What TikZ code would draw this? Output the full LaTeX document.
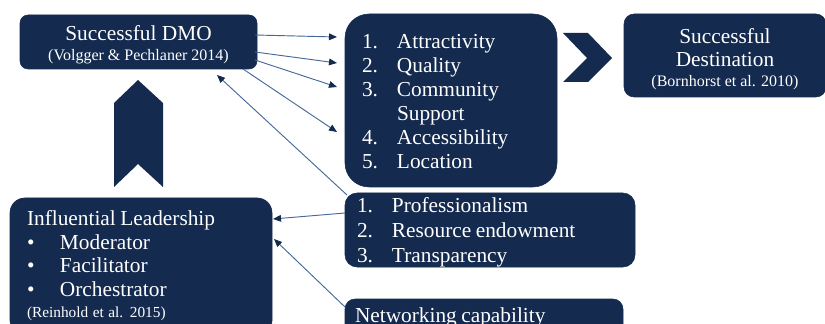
\documentclass[tikz,border=0pt]{standalone}
\usepackage{fontspec}
\setmainfont{Liberation Serif}
\usetikzlibrary{calc,arrows.meta}
\definecolor{dmonavy}{RGB}{20,42,78}
\definecolor{linkblue}{RGB}{70,105,150}

\begin{document}
\begin{tikzpicture}[x=0.75pt,y=-0.75pt,>={Triangle[length=6pt,width=5pt,color=dmonavy]},
  main node/.style={draw=dmonavy,fill=dmonavy,text=white,anchor=north west,outer sep=0pt,inner sep=0pt},
  link/.style={->,color=linkblue,line width=0.7pt},
  chevron/.style={fill=dmonavy}]

            \useasboundingbox (0,0) rectangle (825,324);
            \clip (0,0) rectangle (825,324);

            \node[main node, rounded corners=6pt, minimum width=177.75pt, minimum height=40.5pt, align=center] (1) at (20,15)
              {\fontsize{16}{15}\selectfont\begin{tabular}{@{}c@{}}\rule{0pt}{18pt}Successful DMO\\ \fontsize{12}{14}\selectfont (Volgger \& Pechlaner 2014)\end{tabular}};
            \node[main node, rounded corners=18pt, minimum width=159pt, minimum height=129.75pt, inner xsep=12.75pt, text width=133.5pt, align=left] (2) at (345,14)
              {\fontsize{16}{18}\selectfont\begin{tabular}{@{}p{26.25pt}@{}l@{}}\rule{0pt}{17.1pt}1. & Attractivity\\ 2. & Quality\\ 3. & Community\\ & Support\\ 4. & Accessibility\\ 5. & Location\end{tabular}};
            \node[main node, rounded corners=7.5pt, minimum width=151.5pt, minimum height=62.25pt, align=center] (3) at (624,14)
              {\fontsize{16}{17.25}\selectfont\begin{tabular}{@{}c@{}}\rule{0pt}{19.6pt}Successful\\ Destination\\[-2.25pt] \fontsize{12}{14}\selectfont (Bornhorst et al. 2010)\end{tabular}};
            \node[main node, rounded corners=9pt, minimum width=217.5pt, inner xsep=9pt, text height=15pt, text depth=40.5pt, text width=199.5pt, align=left] (4) at (345,193)
              {\fontsize{16}{18.4}\selectfont\begin{tabular}[t]{@{}p{26.25pt}@{}l@{}}1. & Professionalism\\ 2. & Resource endowment\\ 3. & Transparency\end{tabular}};
            \node[main node, rounded corners=11pt, minimum width=196.5pt, inner xsep=12.75pt, inner ysep=7.65pt, text width=171pt, align=left] (5) at (10,198)
              {\fontsize{16}{18}\selectfont\begin{tabular}{@{}p{24.75pt}@{}l@{}}\multicolumn{2}{@{}l@{}}{Influential Leadership}\\ \textbullet & Moderator\\ \textbullet & Facilitator\\ \textbullet & Orchestrator\\[-2.25pt] \multicolumn{2}{@{}l@{}}{\fontsize{11.5}{14}\selectfont (Reinhold et al. 2015)}\end{tabular}};
            \node[main node, rounded corners=7.5pt, minimum width=208.5pt, inner xsep=7.5pt, inner ysep=5.25pt, text height=12pt, text depth=12pt, text width=193.5pt, align=left] (6) at (345,299)
              {\fontsize{16}{18}\selectfont Networking capability};

            \fill[chevron] (563,33) -- (588,33) -- (612,58) -- (588,82) -- (563,82) -- (587,58) -- cycle;
            \fill[chevron] (138,80) -- (163,103) -- (163,187) -- (138,164) -- (114,187) -- (114,103) -- cycle;

            \draw[link] ($(1.north east)+(-2,20)$) to ($(2.north west)+(-8,23)$);
            \draw[link] ($(1.north east)+(-2,37)$) to ($(2.north west)+(-8,49)$);
            \draw[link] ($(1.north east)+(-2,45)$) to ($(2.north west)+(-8,73)$);
            \draw[link] ($(1.south east)+(-14,0)$) to ($(2.north west)+(-8,118)$);
            \draw[link] ($(4.north west)+(2,2)$) to ($(1.south east)+(-40,6)$);
            \draw[link] ($(4.north west)+(0,20)$) to ($(5.north east)+(1,21)$);
            \draw[link] ($(6.north west)+(0,8)$) to ($(5.north east)+(2,41)$);

            ;
        \end{tikzpicture}
\end{document}
